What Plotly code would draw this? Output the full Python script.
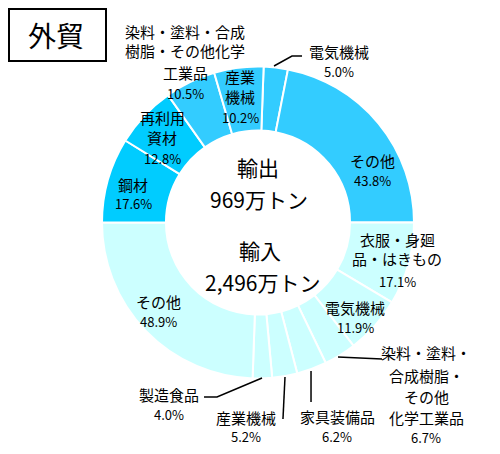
import plotly.graph_objects as go

# ---- data ----
exp_labels = ["電気機械", "その他", "鋼材", "再利用資材",
              "染料・塗料・合成樹脂・その他化学工業品", "産業機械"]
exp_pct = [5.0, 43.8, 17.6, 12.8, 10.5, 10.2]
exp_colors = ["#33CCFF", "#33CCFF", "#00CCFF", "#00CCFF", "#33CCFF", "#33CCFF"]

imp_labels = ["衣服・身廻品・はきもの", "電気機械",
              "染料・塗料・合成樹脂・その他化学工業品", "家具装備品",
              "産業機械", "製造食品", "その他"]
imp_pct = [17.1, 11.9, 6.7, 6.2, 5.2, 4.0, 48.9]
imp_color = "#CCFFFF"

exp_total = "969万トン"
imp_total = "2,496万トン"

# each half of the ring is one trade direction (180 degrees each)
exp_vals = [v / sum(exp_pct) * 50 for v in exp_pct]
imp_vals = [v / sum(imp_pct) * 50 for v in imp_pct]

order = ([("e", 0), ("e", 1)] + [("i", k) for k in range(len(imp_pct))]
         + [("e", k) for k in range(2, len(exp_pct))])
vals, cols, names = [], [], []
for side, k in order:
    if side == "e":
        vals.append(exp_vals[k]); cols.append(exp_colors[k]); names.append("輸出 " + exp_labels[k])
    else:
        vals.append(imp_vals[k]); cols.append(imp_color); names.append("輸入 " + imp_labels[k])

# rotate so that the export/import split is horizontal
rot = 90 - (exp_vals[0] + exp_vals[1]) / 100 * 360

# page body has an 8px default margin; the figure fills the rest of the window
OFF = 8
W, H = 500 - OFF, 454 - OFF
FONT = "Noto Sans CJK JP"

def px(x):
    return (x - OFF) / W

def py(y):
    return 1 - (y - OFF) / H

cx, cy, R = 258, 222.5, 156

fig = go.Figure(go.Pie(
    values=vals, labels=names, sort=False, direction="clockwise", rotation=rot,
    hole=0.59, textinfo="none", hoverinfo="label+percent",
    marker=dict(colors=cols, line=dict(color="white", width=2)),
    domain=dict(x=[px(cx - R), px(cx + R)], y=[py(cy + R), py(cy - R)]),
    showlegend=False,
))

annotations = []

def text(x, y, s, size=15):
    annotations.append(dict(x=px(x), y=py(y), xref="paper", yref="paper",
                            text=s, showarrow=False, xanchor="center", yanchor="middle",
                            font=dict(family=FONT, size=size, color="black")))

def label(x, ys, lines, pct):
    for yy, s in zip(ys, lines + [f"{pct:.1f}%"]):
        text(x, yy, s, 13 if s.endswith("%") else 15)

# export labels
label(339, [52, 72], ["電気機械"], exp_pct[0])
label(372, [160, 180], ["その他"], exp_pct[1])
label(133, [184, 204], ["鋼材"], exp_pct[2])
label(162, [117, 137, 158], ["再利用", "資材"], exp_pct[3])
label(185, [31, 51, 73, 93], ["染料・塗料・合成", "樹脂・その他化学", "工業品"], exp_pct[4])
label(240, [76, 96, 117], ["産業", "機械"], exp_pct[5])

# import labels
label(397, [239, 259, 281], ["衣服・身廻", "品・はきもの"], imp_pct[0])
label(355, [307, 327], ["電気機械"], imp_pct[1])
label(426, [352, 375, 396, 417, 437], ["染料・塗料・", "合成樹脂・", "その他", "化学工業品"], imp_pct[2])
label(337, [416, 436], ["家具装備品"], imp_pct[3])
label(246, [417, 436], ["産業機械"], imp_pct[4])
label(169, [394, 414], ["製造食品"], imp_pct[5])
label(158, [301, 321], ["その他"], imp_pct[6])

# centre texts
text(258, 167, "輸出", 21)
text(259, 199, exp_total, 21)
text(260, 250, "輸入", 21)
text(262, 282, imp_total, 21)

# title box
text(56, 35, "外貿", 28)

shapes = [dict(type="rect", xref="paper", yref="paper",
               x0=px(9), x1=px(106), y0=py(61), y1=py(9),
               line=dict(color="black", width=2), fillcolor="rgba(0,0,0,0)")]

leaders = [
    [(274, 66), (292, 56), (302, 56)],
    [(204, 397), (217, 397), (262, 378)],
    [(285, 377), (283, 419)],
    [(311, 371), (311, 402)],
    [(338, 357), (382, 359)],
]
for pts in leaders:
    d = "M " + " L ".join(f"{px(a):.4f},{py(b):.4f}" for a, b in pts)
    shapes.append(dict(type="path", xref="paper", yref="paper", path=d,
                       line=dict(color="black", width=1.5)))

fig.update_layout(
    width=W, height=H, margin=dict(l=0, r=0, t=0, b=0),
    paper_bgcolor="white", plot_bgcolor="white",
    annotations=annotations, shapes=shapes,
    font=dict(family=FONT),
)

fig.write_html("out.html")
